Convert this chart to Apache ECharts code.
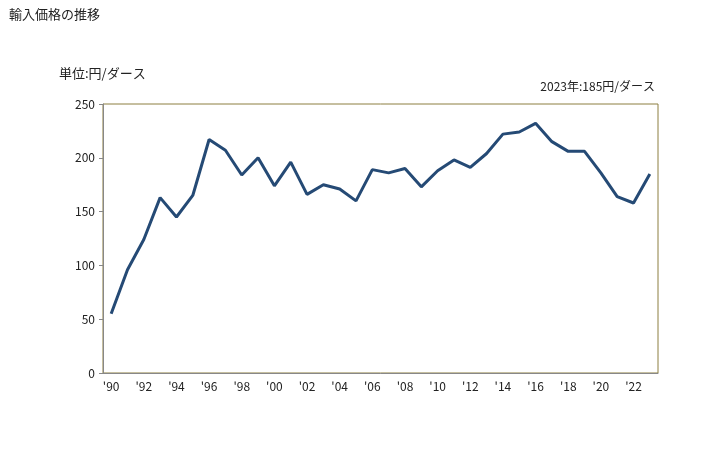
<!DOCTYPE html>
<html><head><meta charset="utf-8">
<script src="https://cdn.jsdelivr.net/npm/echarts@6/dist/echarts.min.js"></script>
<style>html,body{margin:0;padding:0;background:#fff}#c{width:728px;height:450px}</style>
</head><body><div id="c"></div>
<script>
const years = ['1990','1991','1992','1993','1994','1995','1996','1997','1998','1999','2000','2001','2002','2003','2004','2005','2006','2007','2008','2009','2010','2011','2012','2013','2014','2015','2016','2017','2018','2019','2020','2021','2022','2023'];
const values = [55,96,124,163,145,165,217,207,184,200,174,196,166,175,171,160,189,186,190,173,188,198,191,204,222,224,232,215,206,206,186,164,158,185];
const yTicks = [0,50,100,150,200,250];
const title = '輸入価格の推移';
const unit = '単位:円/ダース';
const note = '2023年:185円/ダース';
const F = '"Noto Sans CJK JP", sans-serif';
const chart = echarts.init(document.getElementById('c'));
chart.setOption({
  animation:false,
  textStyle:{fontFamily:F},
  title:[
    {text:title,left:4,top:3,textStyle:{fontSize:13,fontWeight:'normal',color:'#222',fontFamily:F}},
    {text:unit,left:54,top:62,textStyle:{fontSize:13,fontWeight:'normal',color:'#222',fontFamily:F}},
    {text:note,right:68,top:75,textStyle:{fontSize:12,fontWeight:'normal',color:'#222',fontFamily:F}}
  ],
  grid:{left:103,top:104,right:70,bottom:77,show:true,borderColor:'#8c7f40',borderWidth:1,backgroundColor:'#fff'},
  xAxis:{type:'category',data:years,boundaryGap:true,
    axisLine:{lineStyle:{color:'#888'}},axisTick:{show:false},
    axisLabel:{interval:1,color:'#222',fontSize:12,margin:7,fontFamily:F,formatter:v=>"'"+v.slice(2)}},
  yAxis:{type:'value',min:yTicks[0],max:yTicks[yTicks.length-1],interval:50,
    axisLine:{show:true,lineStyle:{color:'#888'}},axisTick:{show:true,length:4,lineStyle:{color:'#888'}},
    splitLine:{show:false},axisLabel:{color:'#222',fontSize:12,margin:8,fontFamily:F}},
  series:[{type:'line',data:values,symbol:'none',lineStyle:{color:'#254a75',width:3},itemStyle:{color:'#254a75'}}]
});
</script></body></html>
